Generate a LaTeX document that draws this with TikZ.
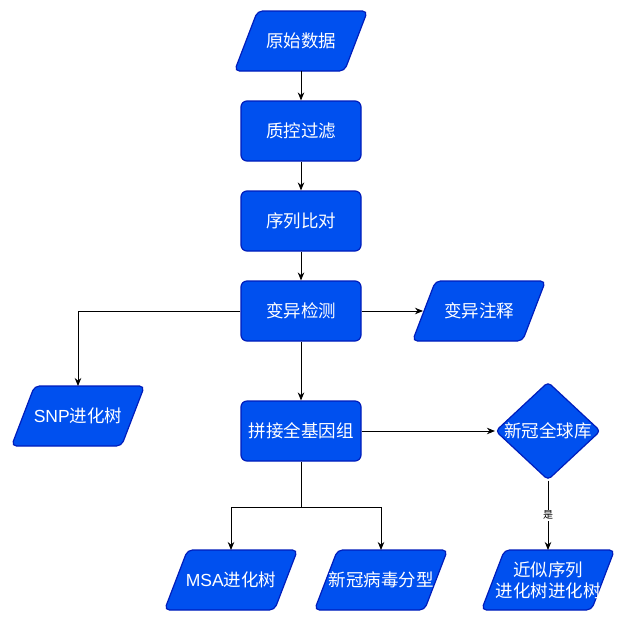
\documentclass[tikz,border=0pt]{standalone}
\usepackage{fontspec}
\setmainfont{Noto Sans CJK SC}
\newfontfamily\lat{Liberation Sans}
\usetikzlibrary{shapes.geometric,arrows.meta}
\definecolor{boxfill}{HTML}{0050EF}
\definecolor{boxline}{HTML}{001DBC}
\begin{document}
\begin{tikzpicture}[x=1pt,y=-1pt,
 txt/.style={text=white,font=\fontsize{17.5}{21}\selectfont},
 base/.style={txt,fill=boxfill,draw=boxline,line width=1.2pt,inner sep=0pt},
 procbox/.style={base,rectangle,rounded corners=6pt,minimum width=120pt,minimum height=60pt},
 iobox/.style={txt,rectangle,minimum width=135pt,minimum height=62pt,inner sep=0pt,outer sep=-1pt,align=center,
   path picture={\draw[fill=boxfill,draw=boxline,line width=1.2pt,rounded corners=5pt]
     ([xshift=1pt,yshift=1pt]path picture bounding box.south west) --
     ([xshift=-24pt,yshift=1pt]path picture bounding box.south east) --
     ([xshift=-1pt,yshift=-1pt]path picture bounding box.north east) --
     ([xshift=24pt,yshift=-1pt]path picture bounding box.north west) -- cycle;}},
 decbox/.style={base,diamond,minimum width=105pt,minimum height=98pt,rounded corners=4pt},
 conn/.style={draw=black,line width=0.9pt,-{Stealth[length=8pt,width=6.5pt]}},
 plain/.style={draw=black,line width=0.9pt},
 edgelabel/.style={fill=white,text=black,font=\fontsize{10}{12}\selectfont,inner sep=1pt},
]
\useasboundingbox[fill=white] (0,0) rectangle (628,622);
\node[iobox] (raw) at (301,41) {原始数据};
\node[procbox] (qc) at (301,131) {质控过滤};
\node[procbox] (aln) at (301,221) {序列比对};
\node[procbox] (var) at (301,311) {变异检测};
\node[iobox] (ann) at (479,311) {变异注释};
\node[iobox] (snp) at (78,416) {{\lat SNP}进化树};
\node[procbox] (asm) at (301,431) {拼接全基因组};
\node[decbox,label={[txt]center:新冠全球库}] (db) at (548,431) {};
\node[iobox] (near) at (548,580) {近似序列\\进化树进化树};
\node[iobox] (msa) at (231,580) {{\lat MSA}进化树};
\node[iobox] (typ) at (381,580) {新冠病毒分型};
\coordinate (split) at (301,507);

\draw[conn] (raw.south) -- (qc.north);
\draw[conn] (qc.south) -- (aln.north);
\draw[conn] (aln.south) -- (var.north);
\draw[conn] (var.east) -- ([xshift=10.5pt]var.east -| ann.west);
\draw[conn] (var.west) -| (snp.north);
\draw[conn] (var.south) -- (asm.north);
\draw[conn] (asm.east) -- (db.west);
\draw[conn] (db.south) -- node[edgelabel] (yes) {是} (near.north);
\draw[plain] (asm.south) -- (split);
\draw[conn] (split) -| (msa.north);
\draw[conn] (split) -| (typ.north);
\end{tikzpicture}
\end{document}
